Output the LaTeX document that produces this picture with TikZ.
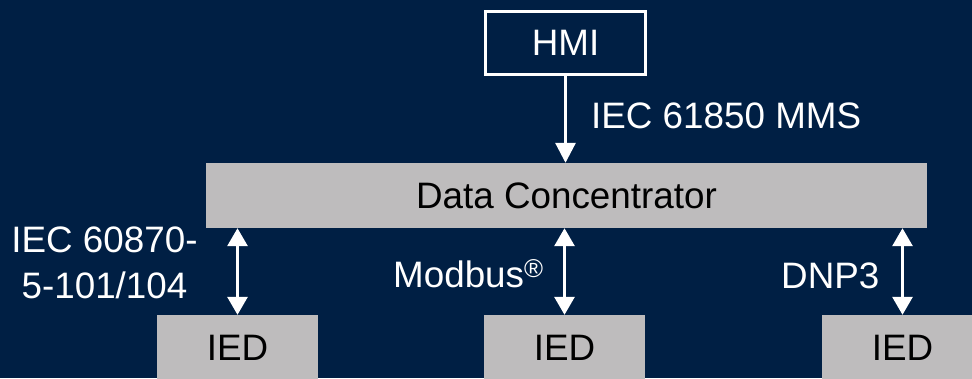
\documentclass[tikz,border=0pt]{standalone}
\usepackage{fontspec}
\setmainfont{Liberation Sans}
\usetikzlibrary{arrows.meta}
\definecolor{navy}{RGB}{0,31,68}
\definecolor{boxgray}{RGB}{190,188,189}
\begin{document}
\begin{tikzpicture}[x=1pt,y=-1pt,
  bigfont/.style={font=\fontsize{36.8}{46}\selectfont},
  lbl/.style={bigfont, text=white, inner sep=0pt},
  graybox/.style={fill=boxgray, draw=none, inner sep=0pt, bigfont, text=black},
  arr/.style={draw=white, line width=3pt, -{Triangle[width=20pt,length=20pt]}},
  darr/.style={draw=white, line width=3pt, {Triangle[width=20pt,length=18pt]}-{Triangle[width=20pt,length=18pt]}}]
\useasboundingbox (0,0) rectangle (972,378);
\fill[navy] (0,0) rectangle (972,378);
\begin{scope}
\clip (0,0) rectangle (972,378);
\node[draw=white, line width=3pt, minimum width=160pt, minimum height=63pt, inner sep=0pt, lbl] (hmi) at (565.5,43) {HMI};
\node[graybox, minimum width=721pt, minimum height=65pt] (dc) at (566.5,195.5) {Data Concentrator};
\node[graybox, minimum width=161pt, minimum height=66pt] (ied1) at (237.5,348) {IED};
\node[graybox, minimum width=161pt, minimum height=66pt] (ied2) at (564.5,348) {IED};
\node[graybox, minimum width=161pt, minimum height=66pt] (ied3) at (902.5,348) {IED};
\end{scope}
\node[lbl, anchor=base west] (l850) at (591,128) {IEC 61850 MMS};
\node[lbl, align=center] (l870) at (104.5,262.5) {IEC 60870-\\5-101/104};
\node[lbl, anchor=base west] (lmod) at (393,287) {Modbus\textsuperscript{®}};
\node[lbl, anchor=base west] (ldnp) at (781,288) {DNP3};
\draw[arr] (hmi.south) -- (hmi.south |- dc.north);
\draw[darr] (dc.south -| ied1.north) -- (ied1.north);
\draw[darr] (dc.south -| ied2.north) -- (ied2.north);
\draw[darr] (dc.south -| ied3.north) -- (ied3.north);
\end{tikzpicture}
\end{document}
